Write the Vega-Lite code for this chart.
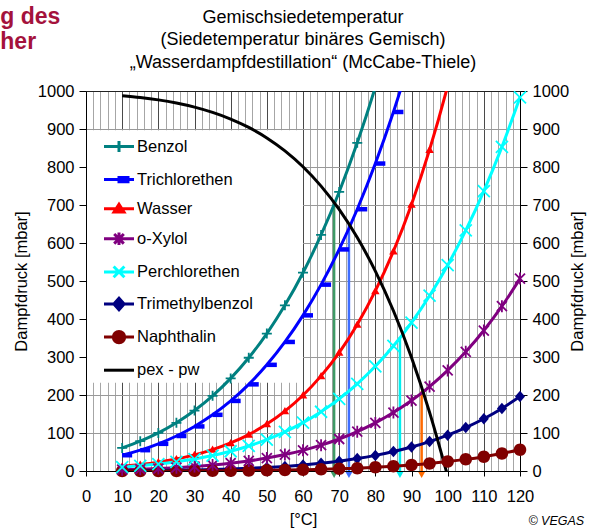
{
  "$schema": "https://vega.github.io/schema/vega-lite/v6.json",
  "background": "white",
  "padding": {"left": 0, "top": 5, "right": 0, "bottom": 0},
  "config": {
    "font": "Liberation Sans",
    "view": {"stroke": null},
    "axis": {"labelFont": "Liberation Sans", "labelFontSize": 16.5, "labelColor": "#000", "titleFont": "Liberation Sans", "titleFontSize": 16.5, "titleFontWeight": "normal", "titleColor": "#000", "domainColor": "#000", "tickColor": "#000"},
    "concat": {"spacing": 0}
  },
  "datasets": {
    "curves": [
      {"series": "Benzol", "t": 10, "p": 60.7}, {"series": "Benzol", "t": 15, "p": 78.5}, {"series": "Benzol", "t": 20, "p": 100.3}, {"series": "Benzol", "t": 25, "p": 126.9}, {"series": "Benzol", "t": 30, "p": 159.1}, {"series": "Benzol", "t": 35, "p": 197.7}, {"series": "Benzol", "t": 40, "p": 243.7}, {"series": "Benzol", "t": 45, "p": 298.0}, {"series": "Benzol", "t": 50, "p": 361.7}, {"series": "Benzol", "t": 55, "p": 435.9}, {"series": "Benzol", "t": 60, "p": 521.8}, {"series": "Benzol", "t": 65, "p": 621.2}, {"series": "Benzol", "t": 70, "p": 734.4}, {"series": "Benzol", "t": 75, "p": 863.7}, {"series": "Benzol", "t": 80, "p": 1010.2}, {"series": "Benzol", "t": 85, "p": 1175.7},
      {"series": "Trichlorethen", "t": 10, "p": 41.5}, {"series": "Trichlorethen", "t": 15, "p": 54.8}, {"series": "Trichlorethen", "t": 20, "p": 71.5}, {"series": "Trichlorethen", "t": 25, "p": 92.1}, {"series": "Trichlorethen", "t": 30, "p": 117.3}, {"series": "Trichlorethen", "t": 35, "p": 147.8}, {"series": "Trichlorethen", "t": 40, "p": 184.4}, {"series": "Trichlorethen", "t": 45, "p": 228.0}, {"series": "Trichlorethen", "t": 50, "p": 279.4}, {"series": "Trichlorethen", "t": 55, "p": 339.6}, {"series": "Trichlorethen", "t": 60, "p": 409.6}, {"series": "Trichlorethen", "t": 65, "p": 490.4}, {"series": "Trichlorethen", "t": 70, "p": 583.1}, {"series": "Trichlorethen", "t": 75, "p": 688.9}, {"series": "Trichlorethen", "t": 80, "p": 809.1}, {"series": "Trichlorethen", "t": 85, "p": 944.8}, {"series": "Trichlorethen", "t": 90, "p": 1096.7},
      {"series": "Wasser", "t": 10, "p": 12.3}, {"series": "Wasser", "t": 15, "p": 17.1}, {"series": "Wasser", "t": 20, "p": 23.4}, {"series": "Wasser", "t": 25, "p": 31.7}, {"series": "Wasser", "t": 30, "p": 42.5}, {"series": "Wasser", "t": 35, "p": 56.3}, {"series": "Wasser", "t": 40, "p": 73.8}, {"series": "Wasser", "t": 45, "p": 95.9}, {"series": "Wasser", "t": 50, "p": 123.5}, {"series": "Wasser", "t": 55, "p": 157.6}, {"series": "Wasser", "t": 60, "p": 199.4}, {"series": "Wasser", "t": 65, "p": 250.3}, {"series": "Wasser", "t": 70, "p": 311.8}, {"series": "Wasser", "t": 75, "p": 385.8}, {"series": "Wasser", "t": 80, "p": 473.9}, {"series": "Wasser", "t": 85, "p": 578.3}, {"series": "Wasser", "t": 90, "p": 701.4}, {"series": "Wasser", "t": 95, "p": 845.6}, {"series": "Wasser", "t": 100, "p": 1013.3}, {"series": "Wasser", "t": 105, "p": 1208.0},
      {"series": "o-Xylol", "t": 10, "p": 3.4}, {"series": "o-Xylol", "t": 15, "p": 4.7}, {"series": "o-Xylol", "t": 20, "p": 6.5}, {"series": "o-Xylol", "t": 25, "p": 8.8}, {"series": "o-Xylol", "t": 30, "p": 11.8}, {"series": "o-Xylol", "t": 35, "p": 15.6}, {"series": "o-Xylol", "t": 40, "p": 20.5}, {"series": "o-Xylol", "t": 45, "p": 26.5}, {"series": "o-Xylol", "t": 50, "p": 34.0}, {"series": "o-Xylol", "t": 55, "p": 43.2}, {"series": "o-Xylol", "t": 60, "p": 54.4}, {"series": "o-Xylol", "t": 65, "p": 68.0}, {"series": "o-Xylol", "t": 70, "p": 84.2}, {"series": "o-Xylol", "t": 75, "p": 103.6}, {"series": "o-Xylol", "t": 80, "p": 126.6}, {"series": "o-Xylol", "t": 85, "p": 153.7}, {"series": "o-Xylol", "t": 90, "p": 185.3}, {"series": "o-Xylol", "t": 95, "p": 222.1}, {"series": "o-Xylol", "t": 100, "p": 264.7}, {"series": "o-Xylol", "t": 105, "p": 313.6}, {"series": "o-Xylol", "t": 110, "p": 369.7}, {"series": "o-Xylol", "t": 115, "p": 433.7}, {"series": "o-Xylol", "t": 120, "p": 506.3},
      {"series": "Perchlorethen", "t": 10, "p": 10.1}, {"series": "Perchlorethen", "t": 15, "p": 13.7}, {"series": "Perchlorethen", "t": 20, "p": 18.3}, {"series": "Perchlorethen", "t": 25, "p": 24.2}, {"series": "Perchlorethen", "t": 30, "p": 31.5}, {"series": "Perchlorethen", "t": 35, "p": 40.7}, {"series": "Perchlorethen", "t": 40, "p": 52.0}, {"series": "Perchlorethen", "t": 45, "p": 65.9}, {"series": "Perchlorethen", "t": 50, "p": 82.7}, {"series": "Perchlorethen", "t": 55, "p": 103.0}, {"series": "Perchlorethen", "t": 60, "p": 127.2}, {"series": "Perchlorethen", "t": 65, "p": 155.9}, {"series": "Perchlorethen", "t": 70, "p": 189.8}, {"series": "Perchlorethen", "t": 75, "p": 229.4}, {"series": "Perchlorethen", "t": 80, "p": 275.6}, {"series": "Perchlorethen", "t": 85, "p": 329.1}, {"series": "Perchlorethen", "t": 90, "p": 390.7}, {"series": "Perchlorethen", "t": 95, "p": 461.3}, {"series": "Perchlorethen", "t": 100, "p": 541.7}, {"series": "Perchlorethen", "t": 105, "p": 633.2}, {"series": "Perchlorethen", "t": 110, "p": 736.7}, {"series": "Perchlorethen", "t": 115, "p": 853.0}, {"series": "Perchlorethen", "t": 120, "p": 983.5},
      {"series": "Trimethylbenzol", "t": 10, "p": 0.7}, {"series": "Trimethylbenzol", "t": 15, "p": 1.0}, {"series": "Trimethylbenzol", "t": 20, "p": 1.4}, {"series": "Trimethylbenzol", "t": 25, "p": 2.0}, {"series": "Trimethylbenzol", "t": 30, "p": 2.8}, {"series": "Trimethylbenzol", "t": 35, "p": 3.8}, {"series": "Trimethylbenzol", "t": 40, "p": 5.2}, {"series": "Trimethylbenzol", "t": 45, "p": 7.0}, {"series": "Trimethylbenzol", "t": 50, "p": 9.2}, {"series": "Trimethylbenzol", "t": 55, "p": 12.1}, {"series": "Trimethylbenzol", "t": 60, "p": 15.8}, {"series": "Trimethylbenzol", "t": 65, "p": 20.3}, {"series": "Trimethylbenzol", "t": 70, "p": 25.9}, {"series": "Trimethylbenzol", "t": 75, "p": 32.7}, {"series": "Trimethylbenzol", "t": 80, "p": 41.1}, {"series": "Trimethylbenzol", "t": 85, "p": 51.1}, {"series": "Trimethylbenzol", "t": 90, "p": 63.1}, {"series": "Trimethylbenzol", "t": 95, "p": 77.5}, {"series": "Trimethylbenzol", "t": 100, "p": 94.4}, {"series": "Trimethylbenzol", "t": 105, "p": 114.4}, {"series": "Trimethylbenzol", "t": 110, "p": 137.6}, {"series": "Trimethylbenzol", "t": 115, "p": 164.7}, {"series": "Trimethylbenzol", "t": 120, "p": 196.1},
      {"series": "Naphthalin", "t": 10, "p": 0.1}, {"series": "Naphthalin", "t": 15, "p": 0.1}, {"series": "Naphthalin", "t": 20, "p": 0.2}, {"series": "Naphthalin", "t": 25, "p": 0.3}, {"series": "Naphthalin", "t": 30, "p": 0.5}, {"series": "Naphthalin", "t": 35, "p": 0.7}, {"series": "Naphthalin", "t": 40, "p": 0.9}, {"series": "Naphthalin", "t": 45, "p": 1.3}, {"series": "Naphthalin", "t": 50, "p": 1.8}, {"series": "Naphthalin", "t": 55, "p": 2.4}, {"series": "Naphthalin", "t": 60, "p": 3.3}, {"series": "Naphthalin", "t": 65, "p": 4.4}, {"series": "Naphthalin", "t": 70, "p": 5.7}, {"series": "Naphthalin", "t": 75, "p": 7.5}, {"series": "Naphthalin", "t": 80, "p": 9.7}, {"series": "Naphthalin", "t": 85, "p": 12.4}, {"series": "Naphthalin", "t": 90, "p": 15.7}, {"series": "Naphthalin", "t": 95, "p": 19.7}, {"series": "Naphthalin", "t": 100, "p": 24.7}, {"series": "Naphthalin", "t": 105, "p": 30.6}, {"series": "Naphthalin", "t": 110, "p": 37.7}, {"series": "Naphthalin", "t": 115, "p": 46.1}, {"series": "Naphthalin", "t": 120, "p": 56.1},
      {"series": "pex - pw", "t": 10, "p": 987.7}, {"series": "pex - pw", "t": 15, "p": 982.9}, {"series": "pex - pw", "t": 20, "p": 976.6}, {"series": "pex - pw", "t": 25, "p": 968.3}, {"series": "pex - pw", "t": 30, "p": 957.5}, {"series": "pex - pw", "t": 35, "p": 943.7}, {"series": "pex - pw", "t": 40, "p": 926.2}, {"series": "pex - pw", "t": 45, "p": 904.1}, {"series": "pex - pw", "t": 50, "p": 876.5}, {"series": "pex - pw", "t": 55, "p": 842.4}, {"series": "pex - pw", "t": 60, "p": 800.6}, {"series": "pex - pw", "t": 65, "p": 749.7}, {"series": "pex - pw", "t": 70, "p": 688.2}, {"series": "pex - pw", "t": 75, "p": 614.2}, {"series": "pex - pw", "t": 80, "p": 526.1}, {"series": "pex - pw", "t": 85, "p": 421.7}, {"series": "pex - pw", "t": 90, "p": 298.6}, {"series": "pex - pw", "t": 95, "p": 154.4}, {"series": "pex - pw", "t": 100, "p": -13.3}
    ],
    "drops": [
      {"pair": "Benzol", "t": 68.6, "p": 702},
      {"pair": "Trichlorethen", "t": 72.7, "p": 648},
      {"pair": "Perchlorethen", "t": 86.8, "p": 352},
      {"pair": "o-Xylol", "t": 92.8, "p": 210}
    ]
  },
  "title": {"text": ["g des", "her"], "color": "#A4123C", "fontSize": 23, "fontWeight": "bold", "anchor": "start", "frame": "bounds", "dx": -13, "offset": -45, "lineHeight": 25},
  "vconcat": [
    {
      "title": {"text": "© VEGAS", "orient": "bottom", "anchor": "end", "frame": "bounds", "fontSize": 12.5, "fontStyle": "italic", "fontWeight": "normal", "color": "#000", "offset": -13, "dx": -2},
      "vconcat": [
        {
          "title": {"text": ["Gemischsiedetemperatur", "(Siedetemperatur binäres Gemisch)", "„Wasserdampfdestillation“ (McCabe-Thiele)"], "fontSize": 18, "fontWeight": "normal", "color": "#000", "lineHeight": 22.5, "offset": 11.5},
          "width": 434,
          "height": 380,
          "layer": [
            {
              "data": {"values": [{}]},
              "mark": {"type": "rect", "fill": "white"},
              "encoding": {
                "x": {"datum": 0.3, "type": "quantitative", "scale": {"domain": [0, 120], "nice": false}, "title": "[°C]"},
                "x2": {"datum": 60},
                "y": {"datum": 232, "type": "quantitative", "scale": {"domain": [0, 1000], "nice": false}, "axis": null},
                "y2": {"datum": 897}
              }
            },
            {
              "data": {"name": "drops"},
              "mark": {"type": "rule", "strokeWidth": 2.5},
              "encoding": {
                "x": {"field": "t", "type": "quantitative", "title": "[°C]"},
                "y": {"field": "p", "type": "quantitative", "axis": null},
                "y2": {"datum": 0},
                "stroke": {"field": "pair", "type": "nominal", "scale": {"domain": ["Benzol", "Trichlorethen", "Perchlorethen", "o-Xylol"], "range": ["#3f9a66", "#3d6dff", "#00f0f0", "#ff6a00"]}, "legend": null}
              }
            },
            {
              "data": {"name": "drops"},
              "mark": {"type": "point", "shape": "triangle-down", "filled": true, "size": 45, "opacity": 1, "yOffset": 4},
              "encoding": {
                "x": {"field": "t", "type": "quantitative", "title": "[°C]"},
                "y": {"datum": 0, "type": "quantitative", "axis": null},
                "fill": {"field": "pair", "type": "nominal", "scale": {"domain": ["Benzol", "Trichlorethen", "Perchlorethen", "o-Xylol"], "range": ["#3f9a66", "#3d6dff", "#00f0f0", "#ff6a00"]}, "legend": null}
              }
            },
            {
              "data": {"name": "curves"},
              "mark": {"type": "line", "strokeWidth": 3, "interpolate": "monotone", "clip": true},
              "encoding": {
                "x": {"field": "t", "type": "quantitative", "title": "[°C]",
                  "axis": {"values": [0,2,4,6,8,10,12,14,16,18,20,22,24,26,28,30,32,34,36,38,40,42,44,46,48,50,52,54,56,58,60,62,64,66,68,70,72,74,76,78,80,82,84,86,88,90,92,94,96,98,100,102,104,106,108,110,112,114,116,118,120],
                    "tickCount": 200, "format": "d",
                    "labelExpr": "datum.value % 10 === 0 ? datum.label : ''",
                    "labelFlush": false, "labelOverlap": false, "grid": true,
                    "gridColor": {"condition": {"test": "datum.value % 10 === 0", "value": "#4a4a4a"}, "value": "#a6a6a6"},
                    "tickOpacity": {"condition": {"test": "datum.value % 10 === 0", "value": 1}, "value": 0},
                    "tickSize": 5, "labelPadding": 12, "titlePadding": 7}},
                "y": {"field": "p", "type": "quantitative", "title": "Dampfdruck [mbar]",
                  "axis": {"orient": "left", "values": [0,100,200,300,400,500,600,700,800,900,1000], "tickCount": 50, "format": "d", "grid": true,
                    "gridColor": {"condition": {"test": "datum.value === 1000", "value": "#222"}, "value": "#999"},
                    "tickSize": 7, "labelPadding": 5, "titlePadding": 8}},
                "color": {"field": "series", "type": "nominal",
                  "scale": {"domain": ["Benzol", "Trichlorethen", "Wasser", "o-Xylol", "Perchlorethen", "Trimethylbenzol", "Naphthalin", "pex - pw"], "range": ["#008080", "#0000ff", "#ff0000", "#800080", "#00ffff", "#000080", "#800000", "#000000"]},
                  "legend": {"orient": "none", "legendX": 16.5, "legendY": 39, "title": null, "padding": 0, "rowPadding": 4.1, "symbolSize": 900, "symbolStrokeWidth": 3, "labelFontSize": 16.5, "labelColor": "#000", "labelOffset": 1.5, "labelLimit": 300,
                    "encode": {"symbols": {"update": {
                      "opacity": {"value": 1},
                      "fill": {"scale": "color", "field": "value"},
                      "stroke": {"scale": "color", "field": "value"},
                      "shape": {"signal": "datum.value === 'Benzol' ? 'M-1,0H1M0,-0.37V0.37' : datum.value === 'Trichlorethen' ? 'M-1,0H1M0,-0.14H0.6V0.14H0Z' : datum.value === 'Wasser' ? 'M-1,0H1M0,-0.3L0.33,0.22L-0.33,0.22Z' : datum.value === 'o-Xylol' ? 'M-1,0H1M-0.32,-0.32L0.32,0.32M-0.32,0.32L0.32,-0.32M0,-0.42V0.42' : datum.value === 'Perchlorethen' ? 'M-1,0H1M-0.36,-0.36L0.36,0.36M-0.36,0.36L0.36,-0.36' : datum.value === 'Trimethylbenzol' ? 'M-1,0H1M0,-0.38L0.34,0L0,0.38L-0.34,0Z' : datum.value === 'Naphthalin' ? 'M-1,0H1M0.38,0A0.38,0.38 0 1,1 -0.38,0A0.38,0.38 0 1,1 0.38,0Z' : 'M-1,0H1'"}
                    }}}}},
                "order": {"field": "t", "type": "quantitative"}
              }
            },
            {
              "data": {"name": "curves"},
              "transform": [{"filter": {"field": "series", "oneOf": ["Trichlorethen", "Wasser", "Trimethylbenzol", "Naphthalin"]}}, {"filter": "datum.p <= 1000"}],
              "mark": {"type": "point", "filled": true, "opacity": 1, "size": 100},
              "encoding": {
                "x": {"field": "t", "type": "quantitative", "title": "[°C]"},
                "y": {"field": "p", "type": "quantitative", "title": "Dampfdruck [mbar]",
                  "axis": {"orient": "right", "values": [0,100,200,300,400,500,600,700,800,900,1000], "tickCount": 50, "format": "d", "grid": false, "tickSize": 7, "labelPadding": 5, "titlePadding": 17, "titleAngle": 270}},
                "color": {"field": "series", "type": "nominal",
                  "scale": {"domain": ["Benzol", "Trichlorethen", "Wasser", "o-Xylol", "Perchlorethen", "Trimethylbenzol", "Naphthalin", "pex - pw"], "range": ["#008080", "#0000ff", "#ff0000", "#800080", "#00ffff", "#000080", "#800000", "#000000"]}},
                "shape": {"field": "series", "type": "nominal", "legend": null,
                  "scale": {"domain": ["Benzol", "Trichlorethen", "Wasser", "o-Xylol", "Perchlorethen", "Trimethylbenzol", "Naphthalin"],
                    "range": ["M-1,0H1M0,-1V1", "M0,-0.45H2V0.45H0Z", "M0,-0.8L0.85,0.65L-0.85,0.65Z", "M-1,-1L1,1M-1,1L1,-1M0,-1.2V1.2", "M-1.2,-1.2L1.2,1.2M-1.2,1.2L1.2,-1.2", "M0,-1.15L1,0L0,1.15L-1,0Z", "M1.25,0A1.25,1.25 0 1,1 -1.25,0A1.25,1.25 0 1,1 1.25,0Z"]}}
              }
            },
            {
              "data": {"name": "curves"},
              "transform": [{"filter": {"field": "series", "oneOf": ["Benzol", "o-Xylol", "Perchlorethen"]}}, {"filter": "datum.p <= 1000"}],
              "mark": {"type": "point", "filled": false, "opacity": 1, "size": 100, "strokeWidth": 1.8},
              "encoding": {
                "x": {"field": "t", "type": "quantitative", "title": "[°C]"},
                "y": {"field": "p", "type": "quantitative", "axis": null},
                "color": {"field": "series", "type": "nominal",
                  "scale": {"domain": ["Benzol", "Trichlorethen", "Wasser", "o-Xylol", "Perchlorethen", "Trimethylbenzol", "Naphthalin", "pex - pw"], "range": ["#008080", "#0000ff", "#ff0000", "#800080", "#00ffff", "#000080", "#800000", "#000000"]}},
                "shape": {"field": "series", "type": "nominal", "legend": null,
                  "scale": {"domain": ["Benzol", "Trichlorethen", "Wasser", "o-Xylol", "Perchlorethen", "Trimethylbenzol", "Naphthalin"],
                    "range": ["M-1,0H1M0,-1V1", "M0,-0.45H2V0.45H0Z", "M0,-0.8L0.85,0.65L-0.85,0.65Z", "M-1,-1L1,1M-1,1L1,-1M0,-1.2V1.2", "M-1.2,-1.2L1.2,1.2M-1.2,1.2L1.2,-1.2", "M0,-1.15L1,0L0,1.15L-1,0Z", "M1.25,0A1.25,1.25 0 1,1 -1.25,0A1.25,1.25 0 1,1 1.25,0Z"]}}
              }
            }
          ],
          "resolve": {"axis": {"y": "independent"}}
        }
      ]
    }
  ]
}
